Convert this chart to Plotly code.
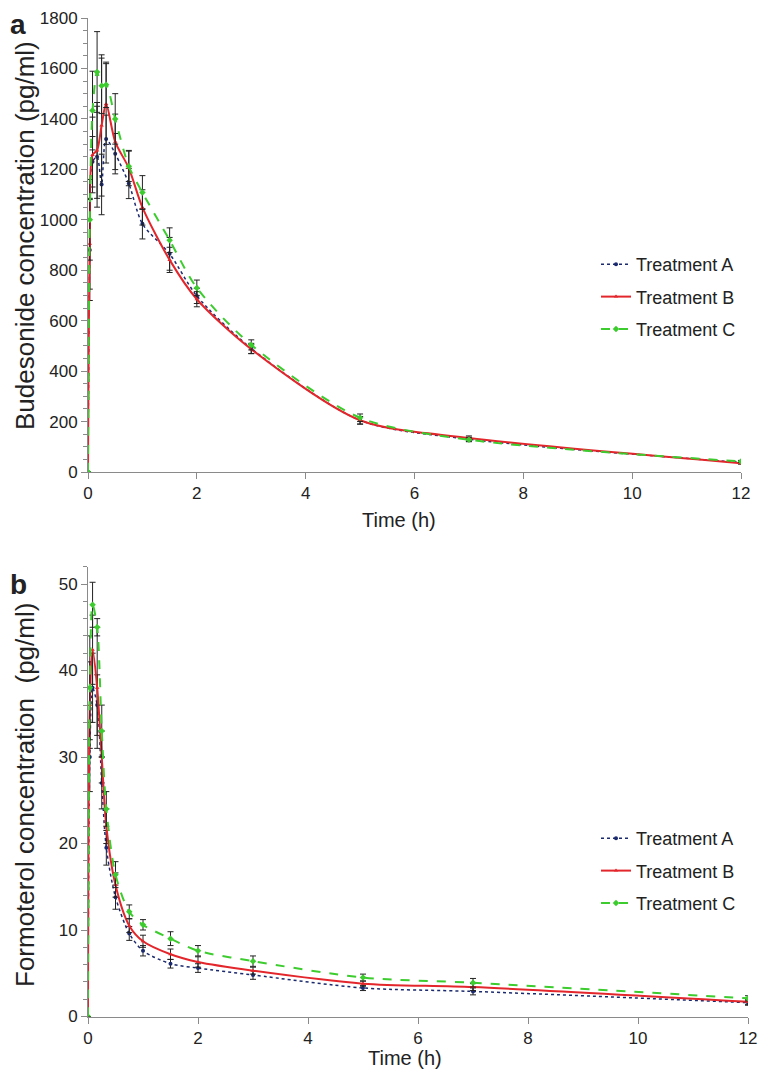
import plotly.graph_objects as go

# ---------------- data ----------------
time_h = [0, 0.033, 0.083, 0.167, 0.25, 0.333, 0.5, 0.75, 1, 1.5, 2, 3, 5, 7, 12]

bud_A = [0, 880, 1230, 1250, 1140, 1320, 1262, 1144, 984, 865, 698, 490, 205, 130, 38]
bud_B = [0, 905, 1257, 1275, 1374, 1459, 1309, 1205, 1049, 841, 685, 487, 205, 135, 35]
bud_C = [0, 1000, 1433, 1586, 1531, 1535, 1400, 1212, 1108, 919, 730, 504, 215, 128, 42]
bud_A_err = [0, 200, 100, 200, 120, 95, 80, 60, 60, 65, 30, 20, 15, 8, 4]
bud_B_err = [0, 180, 150, 190, 280, 160, 110, 70, 70, 50, 30, 18, 15, 8, 4]
bud_C_err = [0, 160, 156, 160, 110, 90, 100, 60, 67, 49, 31, 20, 15, 8, 4]

for_A = [0, 30, 38, 36, 27, 19.5, 13.8, 9.6, 7.6, 6.1, 5.6, 4.8, 3.3, 2.9, 1.6]
for_B = [0, 36, 42.4, 38, 30, 22, 15.2, 10.5, 8.7, 7.2, 6.3, 5.3, 3.8, 3.4, 1.7]
for_C = [0, 38, 47.6, 45, 33, 24, 16.4, 12.1, 10.6, 9.0, 7.6, 6.4, 4.5, 3.9, 2.1]
for_A_err = [0, 4, 4, 3.5, 3, 2, 1.4, 0.8, 0.6, 0.5, 0.5, 0.5, 0.3, 0.4, 0.3]
for_B_err = [0, 5, 4, 7, 3, 2, 1.4, 0.8, 0.7, 0.6, 0.6, 0.4, 0.3, 0.4, 0.3]
for_C_err = [0, 6, 2.6, 1, 3, 2, 1.5, 0.8, 0.6, 0.8, 0.6, 0.6, 0.4, 0.5, 0.3]

names = ["Treatment A", "Treatment B", "Treatment C"]
x_ticks = [0, 2, 4, 6, 8, 10, 12]

# ---------------- style ----------------
OFF = 8                      # page body margin
W, H = 766 - OFF, 1079 - OFF
FONT = "Liberation Sans, Arial, Helvetica, sans-serif"
AX = "#8a8a8a"
styles = [
    dict(color="#1b2a6e", dash="dot", width=1.5, symbol="circle", msize=4),
    dict(color="#e3262b", dash="solid", width=2, symbol="triangle-up", msize=4),
    dict(color="#3ccc2e", dash="dash", width=2, symbol="diamond", msize=5),
]

fig = go.Figure()

def add_panel(ys, errs, xa, ya, legend, tag):
    for i, (name, y, e, st) in enumerate(zip(names, ys, errs, styles)):
        fig.add_trace(go.Scatter(
            x=time_h, y=y, name=name, mode="lines+markers",
            xaxis=xa, yaxis=ya, legend=legend, legendgroup=f"{tag}{i}",
            line=dict(color=st["color"], dash=st["dash"], width=st["width"],
                      shape="spline", smoothing=0.8),
            marker=dict(color=st["color"], symbol=st["symbol"], size=st["msize"]),
            error_y=dict(type="data", array=e, visible=True, color="#222222",
                         thickness=1, width=3),
        ))

add_panel([bud_A, bud_B, bud_C], [bud_A_err, bud_B_err, bud_C_err], "x", "y", "legend", "a")
add_panel([for_A, for_B, for_C], [for_A_err, for_B_err, for_C_err], "x2", "y2", "legend2", "b")

def px_x(p):
    return (p - OFF) / W

def px_y(p):
    return 1 - (p - OFF) / H

axis_common = dict(showgrid=False, zeroline=False, showline=True, linecolor=AX,
                   linewidth=1, ticks="outside", tickcolor=AX, ticklen=6,
                   automargin=False, ticklabeloverflow="allow",
                   tickfont=dict(family=FONT, size=17, color="#222222"))

legend_common = dict(xanchor="left", yanchor="top", bgcolor="rgba(0,0,0,0)",
                     font=dict(family=FONT, size=18, color="#222222"),
                     itemwidth=30, tracegroupgap=6, traceorder="grouped")

fig.update_layout(
    template="none",
    width=W, height=H, margin=dict(l=0, r=0, t=0, b=0, pad=0),
    paper_bgcolor="white", plot_bgcolor="white",
    font=dict(family=FONT, size=17, color="#222222"),
    xaxis=dict(domain=[px_x(88), px_x(741)], range=[0, 12], tickvals=x_ticks,
               anchor="y", **axis_common),
    yaxis=dict(domain=[px_y(472), px_y(18)], range=[0, 1800], dtick=200,
               anchor="x",
               minor=dict(dtick=50, ticks="outside", ticklen=4, tickcolor=AX),
               **axis_common),
    xaxis2=dict(domain=[px_x(88), px_x(748)], range=[0, 12], tickvals=x_ticks,
                anchor="y2", **axis_common),
    yaxis2=dict(domain=[px_y(1016.5), px_y(566.7)], range=[0, 52], dtick=10,
                anchor="x2",
                minor=dict(dtick=2, ticks="outside", ticklen=4, tickcolor=AX),
                **axis_common),
    legend=dict(x=px_x(596), y=px_y(246), **legend_common),
    legend2=dict(x=px_x(596), y=px_y(820), **legend_common),
    showlegend=True,
)

annos = [
    dict(text="<b>a</b>", x=px_x(18), y=px_y(25), size=28, angle=0),
    dict(text="<b>b</b>", x=px_x(18), y=px_y(584), size=28, angle=0),
    dict(text="Budesonide concentration (pg/ml)", x=px_x(25), y=px_y(236), size=26, angle=-90),
    dict(text="Formoterol concentration\u00a0 (pg/ml)", x=px_x(25), y=px_y(795), size=26, angle=-90),
    dict(text="Time (h)", x=px_x(399), y=px_y(520), size=20, angle=0),
    dict(text="Time (h)", x=px_x(405), y=px_y(1058), size=20, angle=0),
]
for a in annos:
    fig.add_annotation(text=a["text"], x=a["x"], y=a["y"], xref="paper", yref="paper",
                       xanchor="center", yanchor="middle", showarrow=False,
                       textangle=a["angle"],
                       font=dict(family=FONT, size=a["size"], color="#222222"))

fig.write_html("out.html")
